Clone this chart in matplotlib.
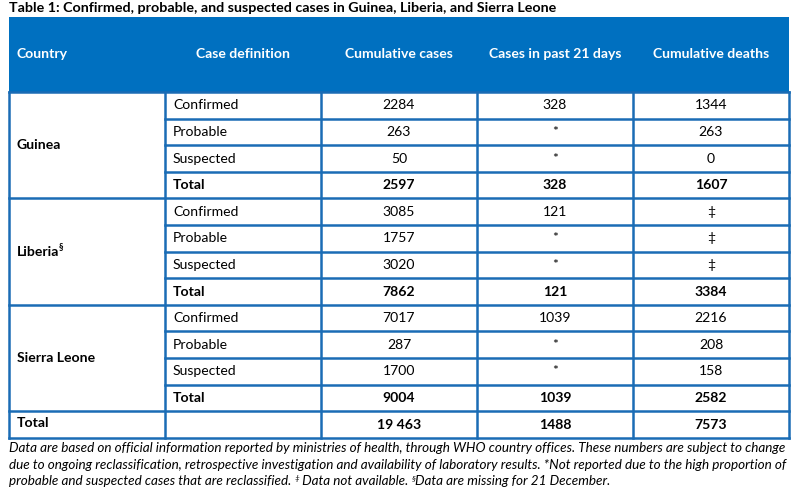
import matplotlib.pyplot as plt
from matplotlib.patches import Rectangle

# --- TABLE DATA ---
title = "Table 1: Confirmed, probable, and suspected cases in Guinea, Liberia, and Sierra Leone"
headers = ["Country", "Case definition", "Cumulative cases", "Cases in past 21 days", "Cumulative deaths"]
countries = ["Guinea", "Liberia", "Sierra Leone"]
country_sup = ["", "§", ""]
case_defs = ["Confirmed", "Probable", "Suspected", "Total"]
cumulative_cases = [["2284", "263", "50", "2597"],
                    ["3085", "1757", "3020", "7862"],
                    ["7017", "287", "1700", "9004"]]
cases_21_days = [["328", "*", "*", "328"],
                 ["121", "*", "*", "121"],
                 ["1039", "*", "*", "1039"]]
cumulative_deaths = [["1344", "263", "0", "1607"],
                     ["‡", "‡", "‡", "3384"],
                     ["2216", "208", "158", "2582"]]
grand_total = ["19 463", "1488", "7573"]
footnote = [
    [("Data are based on official information reported by ministries of health, through WHO country offices. These numbers are subject to change", False)],
    [("due to ongoing reclassification, retrospective investigation and availability of laboratory results. *Not reported due to the high proportion of", False)],
    [("probable and suspected cases that are reclassified. ", False), ("‡", True), (" Data not available. ", False),
     ("§", True), ("Data are missing for 21 December.", False)],
]

# --- LAYOUT (pixels) ---
W, H = 803, 494
COL_EDGES = [9, 165, 321, 477, 633, 789]
HEAD_TOP, HEAD_BOT = 17, 92
ROW_H = 26.6
LINE_C = '#1a6cb5'
HEAD_C = '#0070c0'
FONT = 'Lato'
FS = 10.1

fig = plt.figure(figsize=(W / 100, H / 100), dpi=100)
ax = fig.add_axes([0, 0, 1, 1])
ax.set_xlim(0, W); ax.set_ylim(H, 0)
ax.axis('off')
renderer = fig.canvas.get_renderer()

ax.text(COL_EDGES[0], 8.5, title, fontsize=10.3, fontweight='bold', family=FONT,
        va='center', ha='left', color='black')

# header
ax.add_patch(Rectangle((COL_EDGES[0], HEAD_TOP), COL_EDGES[-1] - COL_EDGES[0], HEAD_BOT - HEAD_TOP,
                       facecolor=HEAD_C, edgecolor='none'))
hy = (HEAD_TOP + HEAD_BOT) / 2
for i, h in enumerate(headers):
    if i == 0:
        ax.text(COL_EDGES[0] + 8, hy, h, fontsize=FS, fontweight='bold', family=FONT,
                color='white', va='center', ha='left')
    else:
        ax.text((COL_EDGES[i] + COL_EDGES[i + 1]) / 2, hy, h, fontsize=FS, fontweight='bold',
                family=FONT, color='white', va='center', ha='center')

def hline(y, x0, x1):
    ax.plot([x0, x1], [y, y], color=LINE_C, lw=1.8, solid_capstyle='projecting')

def vline(x, y0, y1):
    ax.plot([x, x], [y0, y1], color=LINE_C, lw=1.8, solid_capstyle='projecting')

n_rows = len(countries) * len(case_defs)
table_bot = HEAD_BOT + (n_rows + 1) * ROW_H

# body rows
for g, country in enumerate(countries):
    g_top = HEAD_BOT + g * len(case_defs) * ROW_H
    g_bot = g_top + len(case_defs) * ROW_H
    hline(g_top, COL_EDGES[0], COL_EDGES[-1])
    cy = (g_top + g_bot) / 2
    t = ax.text(COL_EDGES[0] + 8, cy, country, fontsize=FS, fontweight='bold', family=FONT,
                va='center', ha='left')
    if country_sup[g]:
        bb = t.get_window_extent(renderer)
        ax.text(bb.x1 - 1, cy - 5, country_sup[g], fontsize=6.5,
                fontweight='bold', family=FONT, va='center', ha='left')
    for r, cd in enumerate(case_defs):
        y0 = g_top + r * ROW_H
        if r > 0:
            hline(y0, COL_EDGES[1], COL_EDGES[-1])
        ry = y0 + ROW_H / 2
        wt = 'bold' if cd == "Total" else 'normal'
        ax.text(COL_EDGES[1] + 8, ry, cd, fontsize=FS, fontweight=wt, family=FONT,
                va='center', ha='left')
        vals = [cumulative_cases[g][r], cases_21_days[g][r], cumulative_deaths[g][r]]
        for c, v in enumerate(vals):
            ax.text((COL_EDGES[c + 2] + COL_EDGES[c + 3]) / 2, ry, v, fontsize=FS, fontweight=wt,
                    family=FONT, va='center', ha='center')

# grand total row
t_top = HEAD_BOT + n_rows * ROW_H
hline(t_top, COL_EDGES[0], COL_EDGES[-1])
ty = (t_top + table_bot) / 2
ax.text(COL_EDGES[0] + 8, ty - 2, "Total", fontsize=FS, fontweight='bold', family=FONT,
        va='center', ha='left')
for c, v in enumerate(grand_total):
    ax.text((COL_EDGES[c + 2] + COL_EDGES[c + 3]) / 2, ty, v, fontsize=FS, fontweight='bold',
            family=FONT, va='center', ha='center')
hline(table_bot, COL_EDGES[0], COL_EDGES[-1])

for x in COL_EDGES:
    vline(x, HEAD_BOT, table_bot)

# footnote
fy = table_bot + 14.5
for line in footnote:
    x = COL_EDGES[0]
    for s, sup in line:
        t = ax.text(x, fy - (4.5 if sup else 0), s, fontsize=6 if sup else 9.75, style='italic',
                    family=FONT, va='baseline', ha='left')
        x += t.get_window_extent(renderer).width
    fy += 16.5

fig.savefig('out.png', dpi=100)
